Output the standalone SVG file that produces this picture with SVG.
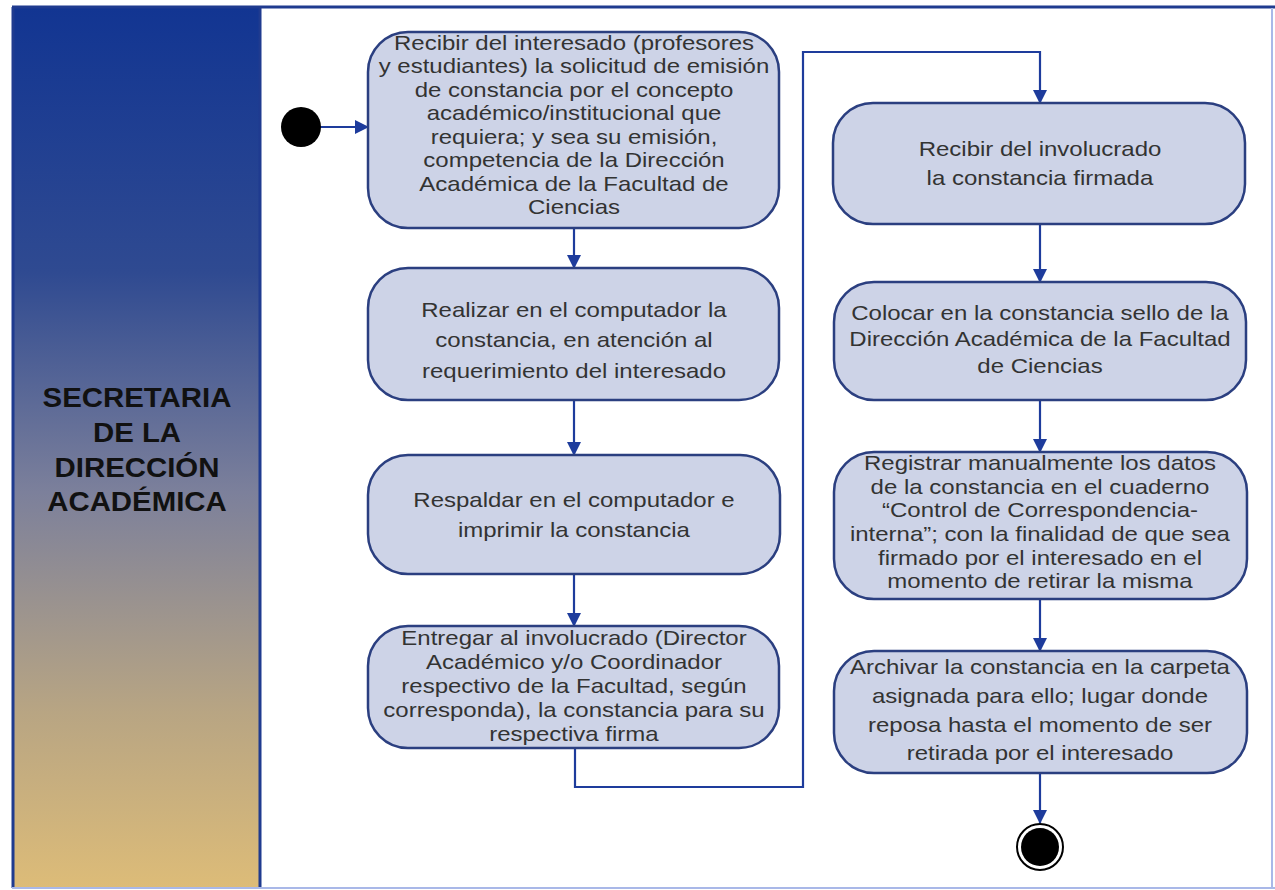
<svg xmlns="http://www.w3.org/2000/svg" width="1275" height="890" viewBox="0 0 1275 890">
  <defs>
    <linearGradient id="laneFill" x1="0" y1="0" x2="0" y2="1">
      <stop offset="0" stop-color="#123592"/>
      <stop offset="0.3" stop-color="#2f4a91"/>
      <stop offset="0.55" stop-color="#7c809b"/>
      <stop offset="0.8" stop-color="#b8a583"/>
      <stop offset="1" stop-color="#ddbc78"/>
    </linearGradient>
    <marker id="arrow" markerWidth="14" markerHeight="14" refX="13" refY="7" orient="auto" markerUnits="userSpaceOnUse" viewBox="0 0 14 14">
      <path d="M0,0 L14,7 L0,14 z" fill="#1e3c9c"/>
    </marker>
    <style>
      .act { fill: #cdd3e7; stroke: #2b3f80; stroke-width: 2.5; }
      .lbl { font-family: "Liberation Sans", Arial, sans-serif; font-size: 20px; fill: #333333; text-anchor: middle;
             transform-box: fill-box; transform-origin: center; transform: scaleX(1.2); }
      .lane { font-family: "Liberation Sans", Arial, sans-serif; font-size: 28px; font-weight: bold; fill: #111111; text-anchor: middle;
              transform-box: fill-box; transform-origin: center; transform: scaleX(1.05); }
      .flow { fill: none; stroke: #1e3c9c; stroke-width: 2.2; }
    </style>
  </defs>

  <rect x="0" y="0" width="1275" height="890" fill="#ffffff"/>

  <!-- swimlane frame -->
  <g id="lane">
    <rect x="12" y="8" width="249" height="880" fill="url(#laneFill)"/>
    <line x1="12" y1="7" x2="1275" y2="7" stroke="#1f3b8f" stroke-width="3"/>
    <line x1="13" y1="7" x2="13" y2="888" stroke="#1f3b8f" stroke-width="3"/>
    <line x1="260" y1="7" x2="260" y2="888" stroke="#1f3b8f" stroke-width="3"/>
    <line x1="1272" y1="8" x2="1272" y2="888" stroke="#a9b8e8" stroke-width="2"/>
    <line x1="12" y1="888" x2="1275" y2="888" stroke="#a9b8e8" stroke-width="2"/>
    <text class="lane" x="137" y="407">SECRETARIA</text>
    <text class="lane" x="137" y="442">DE LA</text>
    <text class="lane" x="137" y="477">DIRECCIÓN</text>
    <text class="lane" x="137" y="511">ACADÉMICA</text>
  </g>

  <!-- connectors -->
  <g id="connectors">
    <line class="flow" x1="318" y1="127" x2="368" y2="127" marker-end="url(#arrow)"/>
    <line class="flow" x1="574" y1="229" x2="574" y2="268" marker-end="url(#arrow)"/>
    <line class="flow" x1="574" y1="401" x2="574" y2="455" marker-end="url(#arrow)"/>
    <line class="flow" x1="574" y1="575" x2="574" y2="626" marker-end="url(#arrow)"/>
    <polyline class="flow" points="575,749 575,787 803,787 803,52 1040,52 1040,103" marker-end="url(#arrow)"/>
    <line class="flow" x1="1040" y1="225" x2="1040" y2="282" marker-end="url(#arrow)"/>
    <line class="flow" x1="1040" y1="401" x2="1040" y2="452" marker-end="url(#arrow)"/>
    <line class="flow" x1="1040" y1="600" x2="1040" y2="651" marker-end="url(#arrow)"/>
    <line class="flow" x1="1040" y1="774" x2="1040" y2="823" marker-end="url(#arrow)"/>
  </g>

  <g id="start">
    <circle cx="301" cy="127" r="20" fill="#000000"/>
  </g>

  <g id="recibir-solicitud">
    <rect class="act" x="368" y="32" width="411" height="196" rx="40" ry="40"/>
    <text class="lbl" x="574" y="50">Recibir del interesado (profesores</text>
    <text class="lbl" x="574" y="73">y estudiantes) la solicitud de emisión</text>
    <text class="lbl" x="574" y="97">de constancia por el concepto</text>
    <text class="lbl" x="574" y="120">académico/institucional que</text>
    <text class="lbl" x="574" y="144">requiera; y sea su emisión,</text>
    <text class="lbl" x="574" y="167">competencia de la Dirección</text>
    <text class="lbl" x="574" y="191">Académica de la Facultad de</text>
    <text class="lbl" x="574" y="214">Ciencias</text>
  </g>

  <g id="realizar-constancia">
    <rect class="act" x="368" y="268" width="411" height="132" rx="40" ry="40"/>
    <text class="lbl" x="574" y="317">Realizar en el computador la</text>
    <text class="lbl" x="574" y="347">constancia, en atención al</text>
    <text class="lbl" x="574" y="378">requerimiento del interesado</text>
  </g>

  <g id="respaldar-imprimir">
    <rect class="act" x="368" y="455" width="412" height="119" rx="40" ry="40"/>
    <text class="lbl" x="574" y="507">Respaldar en el computador e</text>
    <text class="lbl" x="574" y="537">imprimir la constancia</text>
  </g>

  <g id="entregar-firma">
    <rect class="act" x="368" y="626" width="411" height="122" rx="40" ry="40"/>
    <text class="lbl" x="574" y="645">Entregar al involucrado (Director</text>
    <text class="lbl" x="574" y="669">Académico y/o Coordinador</text>
    <text class="lbl" x="574" y="693">respectivo de la Facultad, según</text>
    <text class="lbl" x="574" y="717">corresponda), la constancia para su</text>
    <text class="lbl" x="574" y="741">respectiva firma</text>
  </g>

  <g id="recibir-firmada">
    <rect class="act" x="833" y="103" width="412" height="121" rx="40" ry="40"/>
    <text class="lbl" x="1040" y="156">Recibir del involucrado</text>
    <text class="lbl" x="1040" y="185">la constancia firmada</text>
  </g>

  <g id="colocar-sello">
    <rect class="act" x="834" y="282" width="412" height="118" rx="40" ry="40"/>
    <text class="lbl" x="1040" y="320">Colocar en la constancia sello de la</text>
    <text class="lbl" x="1040" y="346">Dirección Académica de la Facultad</text>
    <text class="lbl" x="1040" y="373">de Ciencias</text>
  </g>

  <g id="registrar-datos">
    <rect class="act" x="834" y="452" width="413" height="147" rx="40" ry="40"/>
    <text class="lbl" x="1040" y="470">Registrar manualmente los datos</text>
    <text class="lbl" x="1040" y="494">de la constancia en el cuaderno</text>
    <text class="lbl" x="1040" y="517">“Control de Correspondencia-</text>
    <text class="lbl" x="1040" y="541">interna”; con la finalidad de que sea</text>
    <text class="lbl" x="1040" y="565">firmado por el interesado en el</text>
    <text class="lbl" x="1040" y="588">momento de retirar la misma</text>
  </g>

  <g id="archivar">
    <rect class="act" x="834" y="651" width="413" height="122" rx="40" ry="40"/>
    <text class="lbl" x="1040" y="674">Archivar la constancia en la carpeta</text>
    <text class="lbl" x="1040" y="703">asignada para ello; lugar donde</text>
    <text class="lbl" x="1040" y="732">reposa hasta el momento de ser</text>
    <text class="lbl" x="1040" y="760">retirada por el interesado</text>
  </g>

  <g id="end">
    <circle cx="1040" cy="847" r="23" fill="#ffffff" stroke="#000000" stroke-width="2"/>
    <circle cx="1040" cy="847" r="19" fill="#000000"/>
  </g>
</svg>
